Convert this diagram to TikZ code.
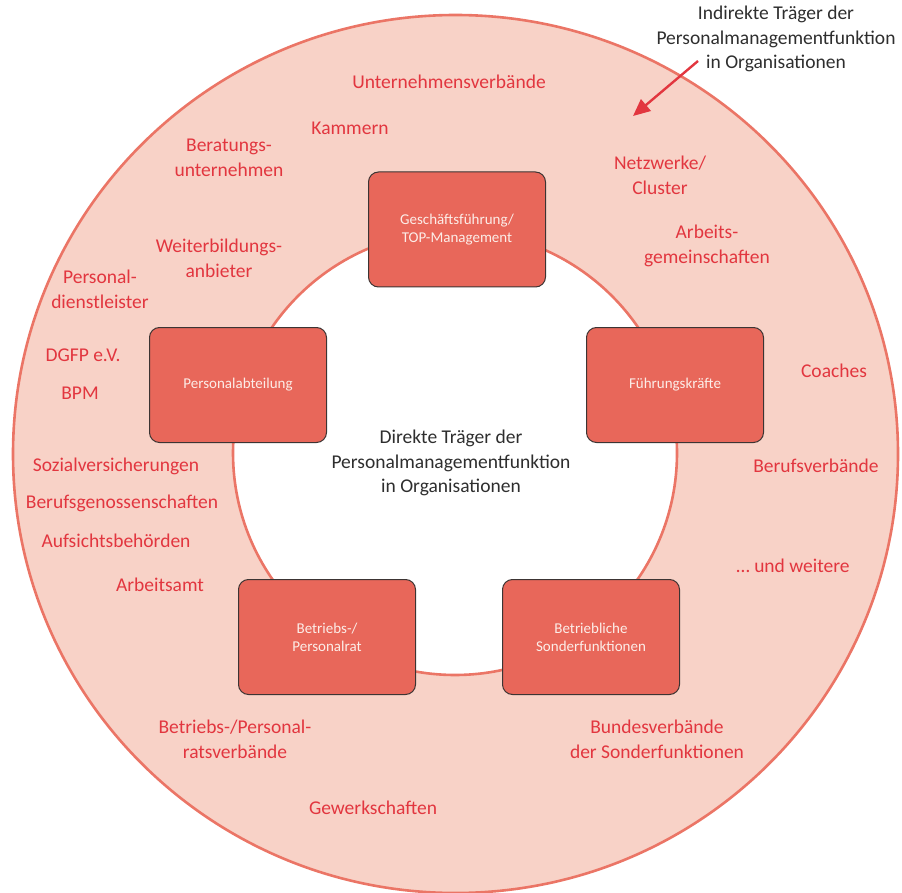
\documentclass[tikz,border=0pt]{standalone}
\usepackage{fontspec}
\setmainfont{Carlito}
\usetikzlibrary{arrows.meta}
\definecolor{ringfill}{HTML}{F8D2C7}
\definecolor{ringline}{HTML}{EB7566}
\definecolor{boxfill}{HTML}{E8675A}
\definecolor{boxline}{HTML}{3C3433}
\definecolor{boxtext}{HTML}{FCEDE8}
\definecolor{labred}{HTML}{E2363F}
\definecolor{darktext}{HTML}{2E2E2E}
\tikzset{
  carrier/.style={draw=boxline, line width=1pt, fill=boxfill, rounded corners=10pt,
    minimum width=177pt, minimum height=115pt, align=center, text=boxtext,
    font=\fontsize{15}{18}\selectfont, inner sep=0pt},
  lab/.style={text=labred, align=center, font=\fontsize{19.5}{25}\selectfont, inner sep=0pt},
  darklab/.style={text=darktext, align=center, font=\fontsize{19.5}{24.5}\selectfont, inner sep=0pt},
  pointer/.style={draw=labred, line width=2.4pt, -{Triangle[length=17pt, width=15pt]}}
}
\begin{document}
\begin{tikzpicture}[x=1pt, y=-1pt]
\useasboundingbox (0,0) rectangle (902,893);
% ring
\fill[ringfill, even odd rule] (455.5,454) ellipse [x radius=442.5, y radius=439]
  (455,453) circle [radius=222];
\draw[ringline, line width=2.6pt] (455.5,454) ellipse [x radius=442.5, y radius=439];
\draw[ringline, line width=2.6pt] (455,453) circle [radius=222];
% direct carriers
\node[carrier] (gf) at (457,229.5) {Geschäftsführung/\\TOP-Management};
\node[carrier] (pa) at (238,385) {Personalabteilung};
\node[carrier] (fk) at (675,385) {Führungskräfte};
\node[carrier] (br) at (327,637) {Betriebs-/\\Personalrat};
\node[carrier] (bs) at (591,637) {Betriebliche\\Sonderfunktionen};
% centre text
\node[darklab] (direct) at (451,463) {Direkte Träger der\\Personalmanagementfunktion\\in Organisationen};
% indirect heading
\node[darklab] (indirect) at (776,39) {Indirekte Träger der\\Personalmanagementfunktion\\in Organisationen};
\coordinate (arrowstart) at (698,61);
\coordinate (arrowtip) at (633,116);
\draw[pointer] (arrowstart) -- (arrowtip);
% indirect carriers
\node[lab] (uv) at (449,82) {Unternehmensverbände};
\node[lab] (ka) at (350,128) {Kammern};
\node[lab] (bu) at (229,157.5) {Beratungs-\\unternehmen};
\node[lab] (nw) at (660,175.5) {Netzwerke/\\Cluster};
\node[lab] (wb) at (219,258) {Weiterbildungs-\\anbieter};
\node[lab] (ag) at (707,245.5) {Arbeits-\\gemeinschaften};
\node[lab] (pd) at (100,289.5) {Personal-\\dienstleister};
\node[lab] (dg) at (83,355) {DGFP e.V.};
\node[lab] (bp) at (80,393) {BPM};
\node[lab] (co) at (834,371) {Coaches};
\node[lab] (sv) at (116,466) {Sozialversicherungen};
\node[lab] (bg) at (122,503) {Berufsgenossenschaften};
\node[lab] (ab) at (116,541) {Aufsichtsbehörden};
\node[lab] (aa) at (160,585) {Arbeitsamt};
\node[lab] (bv) at (816,466) {Berufsverbände};
\node[lab] (uw) at (793,566) {\dots\ und weitere};
\node[lab] (pr) at (235,739) {Betriebs-/Personal-\\ratsverbände};
\node[lab] (bd) at (657,739) {Bundesverbände\\der Sonderfunktionen};
\node[lab] (gw) at (373,808) {Gewerkschaften};
\end{tikzpicture}
\end{document}
